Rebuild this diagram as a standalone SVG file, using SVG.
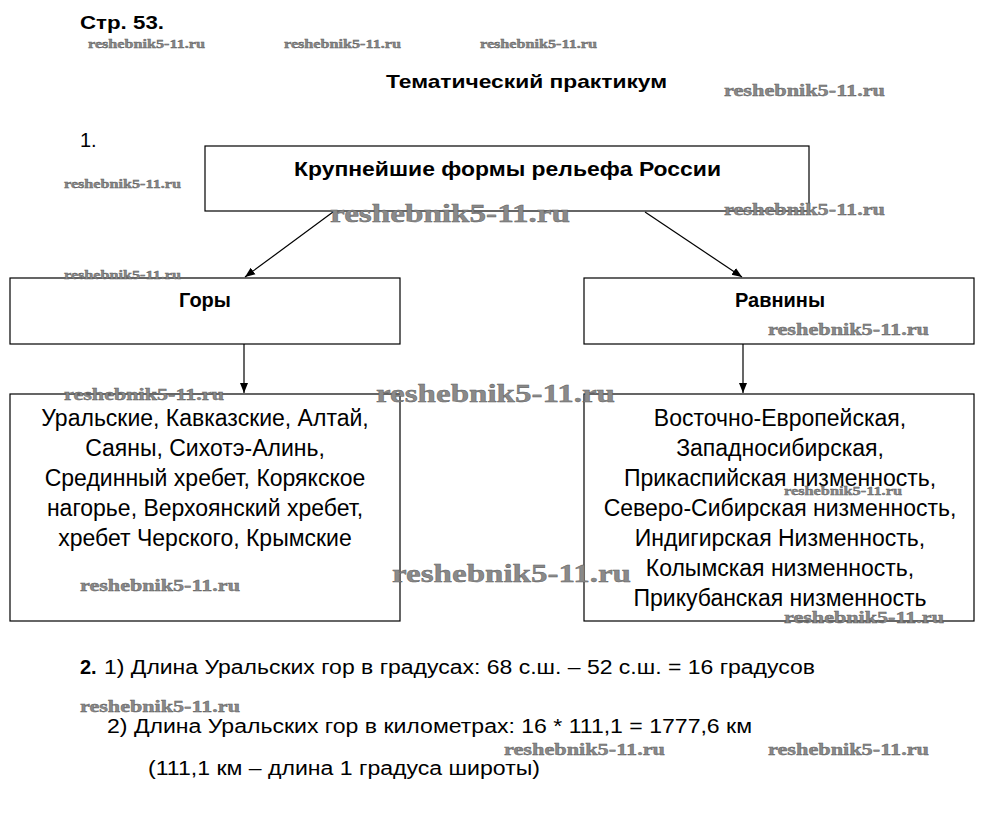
<svg xmlns="http://www.w3.org/2000/svg" width="989" height="831" viewBox="0 0 989 831">
<style>
.box{fill:#fff;stroke:#000;stroke-width:1.2}
.t{font-family:"Liberation Sans",Arial,sans-serif;fill:#000}
.b{font-weight:bold}
.list{font-size:23px;text-anchor:middle}
.wm{font-family:"Liberation Serif","DejaVu Serif",serif;font-weight:bold;fill:#8a8a8a;stroke:#5a5a5a;stroke-width:0.4}
.s{font-size:13px}
.m{font-size:17px}
.l{font-size:26px}
.con{stroke:#000;stroke-width:1.2;fill:none}
</style>
<defs>
<marker id="ah" viewBox="0 0 10 10" refX="10" refY="5" markerWidth="10" markerHeight="10" markerUnits="userSpaceOnUse" orient="auto">
<path d="M0,1 L10,5 L0,9 Z" fill="#000"/>
</marker>
</defs>
<rect width="989" height="831" fill="#fff"/>
<text class="t b" x="80" y="29" font-size="19" textLength="84" lengthAdjust="spacingAndGlyphs">Стр. 53.</text>
<text class="t b" x="386" y="88" font-size="19" textLength="281" lengthAdjust="spacingAndGlyphs">Тематический практикум</text>
<text class="t" x="80" y="147" font-size="20">1.</text>
<g id="root"><rect class="box" x="205" y="146" width="604" height="65"/>
<text class="t b" x="294" y="176" font-size="20" textLength="427" lengthAdjust="spacingAndGlyphs">Крупнейшие формы рельефа России</text></g>
<g id="gory"><rect class="box" x="10" y="278" width="390" height="66"/>
<text class="t b" x="205" y="307" font-size="20" text-anchor="middle">Горы</text></g>
<g id="ravniny"><rect class="box" x="584" y="278" width="390" height="66"/>
<text class="t b" x="780" y="307" font-size="20" text-anchor="middle">Равнины</text></g>
<g id="gory-list"><rect class="box" x="10" y="394" width="390" height="227"/>
<text class="t list" x="205"><tspan x="205" y="426">Уральские, Кавказские, Алтай,</tspan><tspan x="205" y="456">Саяны, Сихотэ-Алинь,</tspan><tspan x="205" y="486">Срединный хребет, Корякское</tspan><tspan x="205" y="516">нагорье, Верхоянский хребет,</tspan><tspan x="205" y="546">хребет Черского, Крымские</tspan></text></g>
<g id="ravniny-list"><rect class="box" x="584" y="394" width="390" height="227"/>
<text class="t list" x="780"><tspan x="780" y="426">Восточно-Европейская,</tspan><tspan x="780" y="456">Западносибирская,</tspan><tspan x="780" y="486">Прикаспийская низменность,</tspan><tspan x="780" y="516">Северо-Сибирская низменность,</tspan><tspan x="780" y="546">Индигирская Низменность,</tspan><tspan x="780" y="576">Колымская низменность,</tspan><tspan x="780" y="606">Прикубанская низменность</tspan></text></g>
<g id="connectors">
<line class="con" x1="333" y1="212" x2="245" y2="277" marker-end="url(#ah)"/>
<line class="con" x1="645" y1="212" x2="742" y2="277" marker-end="url(#ah)"/>
<line class="con" x1="244" y1="344" x2="244" y2="393" marker-end="url(#ah)"/>
<line class="con" x1="743" y1="344" x2="743" y2="393" marker-end="url(#ah)"/>
</g>
<text class="t b" x="80" y="674" font-size="20">2.</text>
<text class="t" x="104" y="674" font-size="20" textLength="711" lengthAdjust="spacingAndGlyphs">1) Длина Уральских гор в градусах: 68 с.ш. – 52 с.ш. = 16 градусов</text>
<text class="t" x="107" y="733" font-size="20" textLength="645" lengthAdjust="spacingAndGlyphs">2) Длина Уральских гор в километрах: 16 * 111,1 = 1777,6 км</text>
<text class="t" x="148" y="775" font-size="20" textLength="392" lengthAdjust="spacingAndGlyphs">(111,1 км – длина 1 градуса широты)</text>
<g id="watermarks">
<text class="wm s" x="88" y="48" textLength="117" lengthAdjust="spacingAndGlyphs">reshebnik5-11.ru</text>
<text class="wm s" x="284" y="48" textLength="117" lengthAdjust="spacingAndGlyphs">reshebnik5-11.ru</text>
<text class="wm s" x="480" y="48" textLength="117" lengthAdjust="spacingAndGlyphs">reshebnik5-11.ru</text>
<text class="wm m" x="724" y="96" textLength="161" lengthAdjust="spacingAndGlyphs">reshebnik5-11.ru</text>
<text class="wm s" x="64" y="188" textLength="117" lengthAdjust="spacingAndGlyphs">reshebnik5-11.ru</text>
<text class="wm l" x="330" y="222" textLength="240" lengthAdjust="spacingAndGlyphs">reshebnik5-11.ru</text>
<text class="wm m" x="724" y="215" textLength="161" lengthAdjust="spacingAndGlyphs">reshebnik5-11.ru</text>
<text class="wm s" x="64" y="279" textLength="117" lengthAdjust="spacingAndGlyphs">reshebnik5-11.ru</text>
<text class="wm m" x="768" y="335" textLength="161" lengthAdjust="spacingAndGlyphs">reshebnik5-11.ru</text>
<text class="wm m" x="64" y="400" textLength="160" lengthAdjust="spacingAndGlyphs">reshebnik5-11.ru</text>
<text class="wm l" x="376" y="402" textLength="239" lengthAdjust="spacingAndGlyphs">reshebnik5-11.ru</text>
<text class="wm s" x="784" y="495" textLength="118" lengthAdjust="spacingAndGlyphs">reshebnik5-11.ru</text>
<text class="wm m" x="80" y="591" textLength="160" lengthAdjust="spacingAndGlyphs">reshebnik5-11.ru</text>
<text class="wm l" x="392" y="582" textLength="239" lengthAdjust="spacingAndGlyphs">reshebnik5-11.ru</text>
<text class="wm m" x="784" y="623" textLength="160" lengthAdjust="spacingAndGlyphs">reshebnik5-11.ru</text>
<text class="wm m" x="80" y="712" textLength="160" lengthAdjust="spacingAndGlyphs">reshebnik5-11.ru</text>
<text class="wm m" x="504" y="755" textLength="161" lengthAdjust="spacingAndGlyphs">reshebnik5-11.ru</text>
<text class="wm m" x="768" y="755" textLength="161" lengthAdjust="spacingAndGlyphs">reshebnik5-11.ru</text>
</g>
</svg>
